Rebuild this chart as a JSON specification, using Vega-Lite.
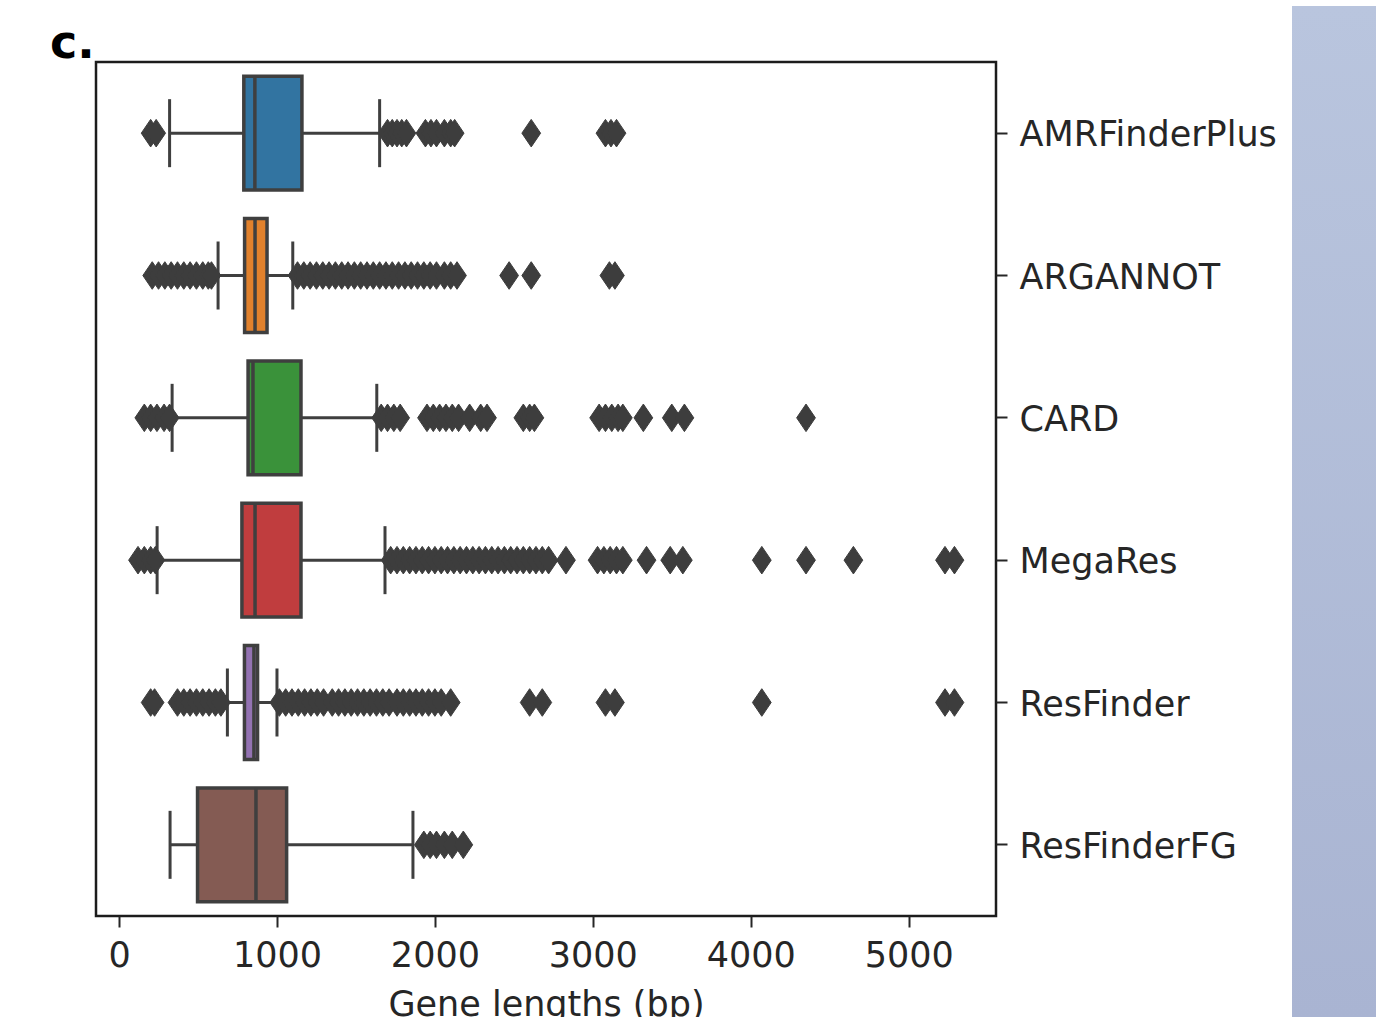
{
  "$schema": "https://vega.github.io/schema/vega-lite/v6.json",
  "background": "white",
  "padding": {"left": 48, "top": 5, "right": 0, "bottom": 0},
  "spacing": 14,
  "datasets": {
    "summary": [
      {"tool": "AMRFinderPlus", "lower": 320, "q1": 790, "median": 860, "q3": 1158, "upper": 1650},
      {"tool": "ARGANNOT", "lower": 627, "q1": 795, "median": 861, "q3": 937, "upper": 1100},
      {"tool": "CARD", "lower": 336, "q1": 817, "median": 848, "q3": 1152, "upper": 1632},
      {"tool": "MegaRes", "lower": 241, "q1": 778, "median": 861, "q3": 1152, "upper": 1684},
      {"tool": "ResFinder", "lower": 686, "q1": 794, "median": 854, "q3": 877, "upper": 1000},
      {"tool": "ResFinderFG", "lower": 323, "q1": 497, "median": 867, "q3": 1061, "upper": 1861}
    ],
    "outliers": [
      {"tool": "AMRFinderPlus", "v": 200}, {"tool": "AMRFinderPlus", "v": 235},
      {"tool": "AMRFinderPlus", "v": 1700}, {"tool": "AMRFinderPlus", "v": 1730}, {"tool": "AMRFinderPlus", "v": 1760}, {"tool": "AMRFinderPlus", "v": 1790}, {"tool": "AMRFinderPlus", "v": 1820},
      {"tool": "AMRFinderPlus", "v": 1940}, {"tool": "AMRFinderPlus", "v": 1975}, {"tool": "AMRFinderPlus", "v": 2010}, {"tool": "AMRFinderPlus", "v": 2060}, {"tool": "AMRFinderPlus", "v": 2100}, {"tool": "AMRFinderPlus", "v": 2125},
      {"tool": "AMRFinderPlus", "v": 2610},
      {"tool": "AMRFinderPlus", "v": 3080}, {"tool": "AMRFinderPlus", "v": 3115}, {"tool": "AMRFinderPlus", "v": 3150},

      {"tool": "ARGANNOT", "v": 210}, {"tool": "ARGANNOT", "v": 250}, {"tool": "ARGANNOT", "v": 290}, {"tool": "ARGANNOT", "v": 330}, {"tool": "ARGANNOT", "v": 370}, {"tool": "ARGANNOT", "v": 410}, {"tool": "ARGANNOT", "v": 450}, {"tool": "ARGANNOT", "v": 490}, {"tool": "ARGANNOT", "v": 530}, {"tool": "ARGANNOT", "v": 565}, {"tool": "ARGANNOT", "v": 585},
      {"tool": "ARGANNOT", "v": 1130}, {"tool": "ARGANNOT", "v": 1170}, {"tool": "ARGANNOT", "v": 1210}, {"tool": "ARGANNOT", "v": 1250}, {"tool": "ARGANNOT", "v": 1290}, {"tool": "ARGANNOT", "v": 1330}, {"tool": "ARGANNOT", "v": 1370}, {"tool": "ARGANNOT", "v": 1410}, {"tool": "ARGANNOT", "v": 1450}, {"tool": "ARGANNOT", "v": 1490}, {"tool": "ARGANNOT", "v": 1530}, {"tool": "ARGANNOT", "v": 1570}, {"tool": "ARGANNOT", "v": 1610}, {"tool": "ARGANNOT", "v": 1650}, {"tool": "ARGANNOT", "v": 1690}, {"tool": "ARGANNOT", "v": 1730}, {"tool": "ARGANNOT", "v": 1770}, {"tool": "ARGANNOT", "v": 1810}, {"tool": "ARGANNOT", "v": 1850}, {"tool": "ARGANNOT", "v": 1890}, {"tool": "ARGANNOT", "v": 1930}, {"tool": "ARGANNOT", "v": 1970}, {"tool": "ARGANNOT", "v": 2010}, {"tool": "ARGANNOT", "v": 2060}, {"tool": "ARGANNOT", "v": 2100}, {"tool": "ARGANNOT", "v": 2140},
      {"tool": "ARGANNOT", "v": 2470}, {"tool": "ARGANNOT", "v": 2610}, {"tool": "ARGANNOT", "v": 3105}, {"tool": "ARGANNOT", "v": 3140},

      {"tool": "CARD", "v": 160}, {"tool": "CARD", "v": 200}, {"tool": "CARD", "v": 240}, {"tool": "CARD", "v": 285}, {"tool": "CARD", "v": 320},
      {"tool": "CARD", "v": 1660}, {"tool": "CARD", "v": 1700}, {"tool": "CARD", "v": 1740}, {"tool": "CARD", "v": 1780},
      {"tool": "CARD", "v": 1950}, {"tool": "CARD", "v": 1990}, {"tool": "CARD", "v": 2030}, {"tool": "CARD", "v": 2070}, {"tool": "CARD", "v": 2110}, {"tool": "CARD", "v": 2150}, {"tool": "CARD", "v": 2220}, {"tool": "CARD", "v": 2290}, {"tool": "CARD", "v": 2330},
      {"tool": "CARD", "v": 2560}, {"tool": "CARD", "v": 2600}, {"tool": "CARD", "v": 2630},
      {"tool": "CARD", "v": 3040}, {"tool": "CARD", "v": 3080}, {"tool": "CARD", "v": 3120}, {"tool": "CARD", "v": 3160}, {"tool": "CARD", "v": 3190},
      {"tool": "CARD", "v": 3320}, {"tool": "CARD", "v": 3500}, {"tool": "CARD", "v": 3580}, {"tool": "CARD", "v": 4350},

      {"tool": "MegaRes", "v": 120}, {"tool": "MegaRes", "v": 160}, {"tool": "MegaRes", "v": 200}, {"tool": "MegaRes", "v": 230},
      {"tool": "MegaRes", "v": 1720}, {"tool": "MegaRes", "v": 1760}, {"tool": "MegaRes", "v": 1800}, {"tool": "MegaRes", "v": 1840}, {"tool": "MegaRes", "v": 1880}, {"tool": "MegaRes", "v": 1920}, {"tool": "MegaRes", "v": 1960}, {"tool": "MegaRes", "v": 2000}, {"tool": "MegaRes", "v": 2040}, {"tool": "MegaRes", "v": 2080}, {"tool": "MegaRes", "v": 2120}, {"tool": "MegaRes", "v": 2160}, {"tool": "MegaRes", "v": 2200}, {"tool": "MegaRes", "v": 2240}, {"tool": "MegaRes", "v": 2280}, {"tool": "MegaRes", "v": 2320}, {"tool": "MegaRes", "v": 2360}, {"tool": "MegaRes", "v": 2400}, {"tool": "MegaRes", "v": 2440}, {"tool": "MegaRes", "v": 2480}, {"tool": "MegaRes", "v": 2520}, {"tool": "MegaRes", "v": 2560}, {"tool": "MegaRes", "v": 2600}, {"tool": "MegaRes", "v": 2640}, {"tool": "MegaRes", "v": 2680}, {"tool": "MegaRes", "v": 2720}, {"tool": "MegaRes", "v": 2830},
      {"tool": "MegaRes", "v": 3030}, {"tool": "MegaRes", "v": 3070}, {"tool": "MegaRes", "v": 3110}, {"tool": "MegaRes", "v": 3150}, {"tool": "MegaRes", "v": 3190},
      {"tool": "MegaRes", "v": 3340}, {"tool": "MegaRes", "v": 3490}, {"tool": "MegaRes", "v": 3570}, {"tool": "MegaRes", "v": 4070}, {"tool": "MegaRes", "v": 4350}, {"tool": "MegaRes", "v": 4650}, {"tool": "MegaRes", "v": 5230}, {"tool": "MegaRes", "v": 5290},

      {"tool": "ResFinder", "v": 200}, {"tool": "ResFinder", "v": 225}, {"tool": "ResFinder", "v": 370}, {"tool": "ResFinder", "v": 410}, {"tool": "ResFinder", "v": 450}, {"tool": "ResFinder", "v": 490}, {"tool": "ResFinder", "v": 530}, {"tool": "ResFinder", "v": 570}, {"tool": "ResFinder", "v": 610}, {"tool": "ResFinder", "v": 645},
      {"tool": "ResFinder", "v": 1015}, {"tool": "ResFinder", "v": 1055}, {"tool": "ResFinder", "v": 1095}, {"tool": "ResFinder", "v": 1135}, {"tool": "ResFinder", "v": 1175}, {"tool": "ResFinder", "v": 1215}, {"tool": "ResFinder", "v": 1255}, {"tool": "ResFinder", "v": 1295}, {"tool": "ResFinder", "v": 1350}, {"tool": "ResFinder", "v": 1390}, {"tool": "ResFinder", "v": 1430}, {"tool": "ResFinder", "v": 1470}, {"tool": "ResFinder", "v": 1510}, {"tool": "ResFinder", "v": 1550}, {"tool": "ResFinder", "v": 1590}, {"tool": "ResFinder", "v": 1630}, {"tool": "ResFinder", "v": 1670}, {"tool": "ResFinder", "v": 1710}, {"tool": "ResFinder", "v": 1760}, {"tool": "ResFinder", "v": 1800}, {"tool": "ResFinder", "v": 1840}, {"tool": "ResFinder", "v": 1880}, {"tool": "ResFinder", "v": 1920}, {"tool": "ResFinder", "v": 1960}, {"tool": "ResFinder", "v": 2000}, {"tool": "ResFinder", "v": 2040}, {"tool": "ResFinder", "v": 2100},
      {"tool": "ResFinder", "v": 2600}, {"tool": "ResFinder", "v": 2680}, {"tool": "ResFinder", "v": 3080}, {"tool": "ResFinder", "v": 3140}, {"tool": "ResFinder", "v": 4070}, {"tool": "ResFinder", "v": 5230}, {"tool": "ResFinder", "v": 5290},

      {"tool": "ResFinderFG", "v": 1930}, {"tool": "ResFinderFG", "v": 1970}, {"tool": "ResFinderFG", "v": 2010}, {"tool": "ResFinderFG", "v": 2060}, {"tool": "ResFinderFG", "v": 2110}, {"tool": "ResFinderFG", "v": 2180}
    ]
  },
  "config": {
    "font": "DejaVu Sans",
    "view": {"stroke": "#1c1c1c", "strokeWidth": 2.5},
    "axis": {"grid": false, "labelFont": "DejaVu Sans", "titleFont": "DejaVu Sans", "labelColor": "#262626", "titleColor": "#262626", "tickColor": "#262626", "labelLimit": 0}
  },
  "hconcat": [
    {
      "width": 900,
      "height": 854,
      "title": {"text": "c.", "anchor": "start", "frame": "group", "dx": -46, "offset": -6, "font": "DejaVu Sans", "fontSize": 46, "fontWeight": "bold", "color": "#000000"},
      "encoding": {
        "y": {
          "field": "tool", "type": "nominal",
          "scale": {"domain": ["AMRFinderPlus", "ARGANNOT", "CARD", "MegaRes", "ResFinder", "ResFinderFG"], "paddingInner": 0, "paddingOuter": 0},
          "axis": {"orient": "right", "title": null, "domain": false, "labelFontSize": 35, "tickSize": 11, "tickWidth": 2, "labelPadding": 12, "labelLimit": 0, "labelOffset": 2}
        }
      },
      "layer": [
        {
          "data": {"name": "summary"},
          "mark": {"type": "rule", "color": "#3f3f3f", "strokeWidth": 3, "opacity": 1},
          "encoding": {
            "x": {"field": "lower", "type": "quantitative",
              "scale": {"domain": [-146, 5553], "nice": false, "zero": false},
              "axis": {"orient": "bottom", "values": [0, 1000, 2000, 3000, 4000, 5000], "format": "d", "domain": false, "title": "Gene lengths (bp)", "titleFontSize": 35, "titleFontWeight": "normal", "labelFontSize": 35, "tickSize": 11, "tickWidth": 2, "labelPadding": 11, "titlePadding": 14}},
            "x2": {"field": "upper"}
          }
        },
        {
          "data": {"name": "summary"},
          "mark": {"type": "tick", "color": "#3f3f3f", "size": 68, "thickness": 3, "opacity": 1},
          "encoding": {"x": {"field": "lower", "type": "quantitative"}}
        },
        {
          "data": {"name": "summary"},
          "mark": {"type": "tick", "color": "#3f3f3f", "size": 68, "thickness": 3, "opacity": 1},
          "encoding": {"x": {"field": "upper", "type": "quantitative"}}
        },
        {
          "data": {"name": "summary"},
          "mark": {"type": "bar", "height": {"band": 0.8}, "stroke": "#3f3f3f", "strokeWidth": 3.5, "opacity": 1},
          "encoding": {
            "x": {"field": "q1", "type": "quantitative"},
            "x2": {"field": "q3"},
            "fill": {"field": "tool", "type": "nominal", "legend": null,
              "scale": {"domain": ["AMRFinderPlus", "ARGANNOT", "CARD", "MegaRes", "ResFinder", "ResFinderFG"], "range": ["#3274a1", "#e1812c", "#3a923a", "#c03d3e", "#9372b2", "#845b53"]}}
          }
        },
        {
          "data": {"name": "summary"},
          "mark": {"type": "tick", "color": "#3f3f3f", "size": 112, "thickness": 3.5, "opacity": 1},
          "encoding": {"x": {"field": "median", "type": "quantitative"}}
        },
        {
          "data": {"name": "outliers"},
          "mark": {"type": "point", "shape": "M0,-1L0.68,0L0,1L-0.68,0Z", "size": 760, "filled": true, "fill": "#3d3d3d", "opacity": 1, "stroke": "#3d3d3d", "strokeWidth": 1},
          "encoding": {"x": {"field": "v", "type": "quantitative"}}
        }
      ]
    },
    {
      "width": 84,
      "height": 956,
      "view": {"stroke": null},
      "data": {"values": [{"p": 0}]},
      "mark": {"type": "rect", "clip": false, "fill": {"gradient": "linear", "x1": 0, "y1": 0, "x2": 0, "y2": 1, "stops": [{"offset": 0, "color": "#b9c5de"}, {"offset": 1, "color": "#a9b4d2"}]}},
      "encoding": {
        "x": {"datum": 0, "type": "quantitative", "scale": {"domain": [0, 1], "nice": false}, "axis": null},
        "x2": {"datum": 1},
        "y": {"datum": 0, "type": "quantitative", "scale": {"domain": [0, 1], "nice": false, "zero": false}, "axis": null},
        "y2": {"datum": 1.0586}
      }
    }
  ]
}
